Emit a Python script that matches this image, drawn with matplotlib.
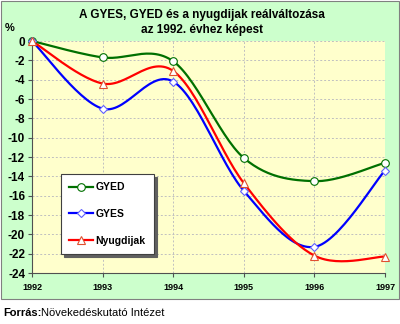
import numpy as np
import matplotlib
matplotlib.use("Agg")
import matplotlib.pyplot as plt
from matplotlib.patches import Rectangle

years = [1992, 1993, 1994, 1995, 1996, 1997]
gyed = [0.0, -1.7, -2.1, -12.1, -14.5, -12.6]
gyes = [0.0, -7.0, -4.2, -15.5, -21.3, -13.4]
nyugdijak = [0.0, -4.4, -3.1, -14.7, -22.2, -22.3]
series_names = ["GYED", "GYES", "Nyugdijak"]
yticks = list(range(0, -25, -2))
title = "A GYES, GYED és a nyugdijak reálváltozása\naz 1992. évhez képest"

plt.rcParams['font.family'] = ['Liberation Sans', 'DejaVu Sans']


def smooth(x, y, n=30):
    x = np.asarray(x, float)
    y = np.asarray(y, float)
    P = np.column_stack([x, y])
    out = [P[0]]
    m = len(P)
    for i in range(m - 1):
        p0 = P[i - 1] if i > 0 else P[i]
        p1 = P[i]
        p2 = P[i + 1]
        p3 = P[i + 2] if i + 2 < m else P[i + 1]
        c1 = p1 + (p2 - p0) / 6.0
        c2 = p2 - (p3 - p1) / 6.0
        t = np.linspace(0, 1, n)[1:, None]
        b = ((1 - t) ** 3) * p1 + 3 * ((1 - t) ** 2) * t * c1 + 3 * (1 - t) * t ** 2 * c2 + t ** 3 * p2
        out.extend(b)
    out = np.array(out)
    return out[:, 0], out[:, 1]


fig = plt.figure(figsize=(4.0, 3.24), dpi=100)
fig.patch.set_facecolor('white')
panel = Rectangle((0.5 / 400, 1 - 298.5 / 324), 398.5 / 400, 298 / 324,
                  transform=fig.transFigure, facecolor='#CCFFCC',
                  edgecolor='#808080', linewidth=0.8, zorder=-10)
fig.patches.append(panel)

ax = fig.add_axes([32 / 400, 1 - 273 / 324, (385 - 32) / 400, (273 - 41) / 324])
ax.set_zorder(1)
ax.set_facecolor('#FFFFCC')
ax.set_xlim(1992, 1997)
ax.set_ylim(-24, 0)
ax.set_yticks(yticks)
ax.set_yticklabels([str(v) for v in yticks], fontsize=8.5, fontweight='bold')
ax.set_xticks(years)
ax.set_xticklabels([str(v) for v in years], fontsize=6.5, fontweight='bold')
ax.grid(True, color='#C0C0C0', linestyle=(0, (2, 2)), linewidth=0.7)
ax.set_axisbelow(True)
for s in ['top', 'right']:
    ax.spines[s].set_visible(False)
for s in ['left', 'bottom']:
    ax.spines[s].set_color('#505050')
    ax.spines[s].set_linewidth(0.8)
ax.tick_params(axis='both', direction='out', length=3, width=0.8, color='#505050', pad=2)
ax.tick_params(axis='x', pad=4.5)

specs = [
    (gyed, '#007000', 'o', '#007000', 5.5),
    (gyes, '#0000FF', 'D', '#6060FF', 4.5),
    (nyugdijak, '#FF0000', '^', '#E05030', 6.0),
]
handles = []
for (vals, col, mk, mec, ms), name in zip(specs, series_names):
    sx, sy = smooth(years, vals)
    ax.plot(sx, sy, color=col, linewidth=1.6, clip_on=False, zorder=3)
    ax.plot(years, vals, linestyle='none', marker=mk, markersize=ms,
            markerfacecolor='white', markeredgecolor=mec, markeredgewidth=0.8,
            clip_on=False, zorder=4)
    h, = ax.plot([], [], color=col, linewidth=1.6, marker=mk, markersize=ms,
                 markerfacecolor='white', markeredgecolor=mec, markeredgewidth=0.8)
    handles.append(h)

leg = ax.legend(handles, series_names, loc='upper left',
                bbox_to_anchor=((61 - 32) / 353, (273 - 174) / 232),
                prop={'weight': 'bold', 'size': 7.5}, frameon=True, fancybox=False,
                shadow={'color': '#606060', 'alpha': 1.0}, handlelength=2.3,
                handletextpad=0.2, labelspacing=1.6, borderpad=0.8,
                borderaxespad=0)
leg.get_frame().set_edgecolor('#404040')
leg.get_frame().set_linewidth(0.8)
leg.get_frame().set_facecolor('white')

fig.text(202 / 400, 1 - 22.5 / 324, title, ha='center', va='center',
         fontsize=8.5, fontweight='bold', linespacing=1.3)
fig.text(10 / 400, 1 - 28 / 324, '%', ha='center', va='center',
         fontsize=8, fontweight='bold')
fig.text(3 / 400, 1 - 313 / 324, 'Forrás:', ha='left', va='center',
         fontsize=8, fontweight='bold')
fig.text(41 / 400, 1 - 313 / 324, 'Növekedéskutató Intézet', ha='left', va='center',
         fontsize=8)

fig.savefig('out.png', dpi=100, facecolor='white')
